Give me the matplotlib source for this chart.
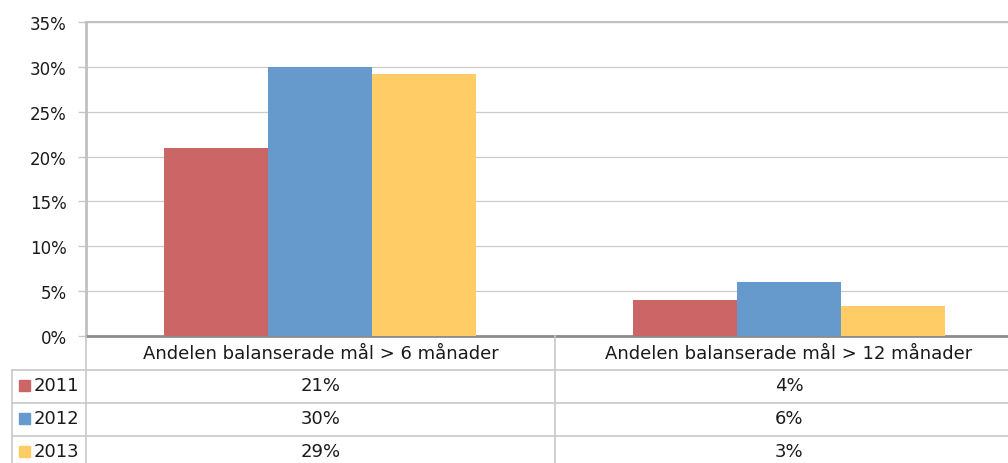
import numpy as np
import matplotlib
matplotlib.use("Agg")
import matplotlib.pyplot as plt
from matplotlib.patches import Rectangle
from matplotlib.lines import Line2D

# data
categories = ["Andelen balanserade mål > 6 månader", "Andelen balanserade mål > 12 månader"]
years = ["2011", "2012", "2013"]
values_2011 = [21.0, 4.0]
values_2012 = [30.0, 6.0]
values_2013 = [29.2, 3.3]
colors = ["#CC6666", "#6699CC", "#FFCC66"]

W, H = 1008, 464
fig = plt.figure(figsize=(W / 100, H / 100), dpi=100)

def fx(px):
    return px / W

def fy(py):
    return 1 - py / H

# plot area: x 86 -> 1023 (cut off by image edge), y 23 -> 337
ax = fig.add_axes([fx(86), fy(337), fx(1023) - fx(86), fy(23) - fy(337)])
x = np.arange(len(categories))
bw = 0.2222
series = [values_2011, values_2012, values_2013]
for i, (vals, c) in enumerate(zip(series, colors)):
    ax.bar(x + (i - 1) * bw, vals, width=bw, color=c, zorder=3)

ax.set_xlim(-0.5, len(categories) - 0.5)
ax.set_ylim(0, 35)
ax.set_yticks(range(0, 36, 5))
ax.set_yticklabels([f"{t}%" for t in range(0, 36, 5)], fontsize=12, color="#1a1a1a")
ax.set_xticks([])
ax.yaxis.grid(True, color="#cccccc", linewidth=0.9, zorder=0)
ax.tick_params(axis="y", length=6, width=1, color="#c8c8c8", pad=8)
ax.spines["left"].set_color("#c0c0c0")
ax.spines["left"].set_linewidth(2)
ax.spines["top"].set_color("#c0c0c0")
ax.spines["top"].set_linewidth(1.5)
ax.spines["right"].set_visible(False)
ax.spines["bottom"].set_color("#8c8c8c")
ax.spines["bottom"].set_linewidth(2)

# data table drawn below the axes
line_kw = dict(color="#c8c8c8", linewidth=1.2, transform=fig.transFigure)
row_y = [337, 371, 404, 437, 470]
col_x = [86, 555, 1023]
for yy in row_y[1:]:
    fig.add_artist(Line2D([fx(12), 1], [fy(yy), fy(yy)], **line_kw))
fig.add_artist(Line2D([fx(12), fx(12)], [fy(371), 0], **line_kw))
for xx in col_x:
    fig.add_artist(Line2D([fx(xx), fx(xx)], [fy(337), 0], **line_kw))

centers = [(col_x[j] + col_x[j + 1]) / 2 for j in range(len(categories))]
for j, cat in enumerate(categories):
    fig.text(fx(centers[j]), fy((row_y[0] + row_y[1]) / 2), cat,
             ha="center", va="center", fontsize=13, color="#1a1a1a")

for i, (yr, vals, c) in enumerate(zip(years, series, colors)):
    yc = (row_y[i + 1] + row_y[i + 2]) / 2
    fig.add_artist(Rectangle((fx(19), fy(yc + 4)), fx(11), fy(yc - 7) - fy(yc + 4),
                             transform=fig.transFigure, color=c))
    fig.text(fx(34), fy(yc - 1), yr, ha="left", va="center", fontsize=13, color="#1a1a1a")
    for j, v in enumerate(vals):
        fig.text(fx(centers[j]), fy(yc - 1), f"{round(v):.0f}%",
                 ha="center", va="center", fontsize=13, color="#1a1a1a")

fig.savefig("out.png", dpi=100)
